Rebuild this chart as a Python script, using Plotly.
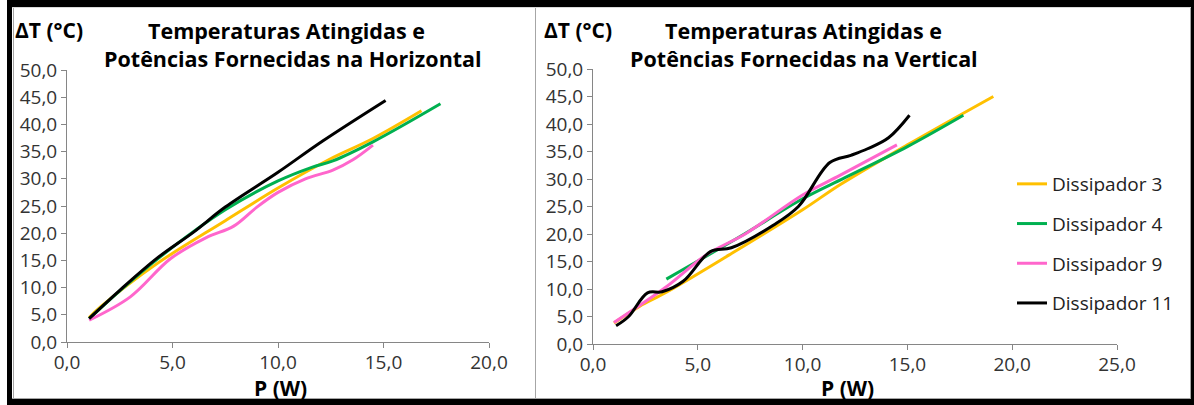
import plotly.graph_objects as go

# ---------------- data ----------------
series_names = ["Dissipador 3", "Dissipador 4", "Dissipador 9", "Dissipador 11"]
series_colors = ["#FFC000", "#00B050", "#FF66CC", "#000000"]

# Horizontal (left chart)
h_p3 = [1.05, 1.6, 4.3, 7.5, 10.0, 12.4, 14.5, 16.8]
h_t3 = [4.5, 6.5, 14.5, 22.3, 28.3, 33.5, 37.4, 42.5]
h_p4 = [1.05, 2.5, 4.3, 7.5, 10.0, 11.6, 12.6, 14.5, 17.7]
h_t4 = [4.3, 9.4, 15.3, 24.3, 29.6, 32.1, 33.3, 36.8, 43.8]
h_p9 = [1.05, 3.0, 4.9, 6.6, 7.9, 9.0, 10.0, 11.3, 12.6, 13.55, 14.5]
h_t9 = [4.0, 8.3, 15.3, 19.2, 21.3, 24.8, 27.5, 30.0, 31.6, 33.5, 36.2]
h_p11 = [1.05, 2.5, 4.3, 6.0, 7.5, 10.0, 12.1, 15.1]
h_t11 = [4.3, 9.5, 15.5, 20.2, 24.8, 31.2, 36.9, 44.4]

# Vertical (right chart)
v_p3 = [1.0, 2.2, 3.5, 6.5, 10.0, 11.8, 15.0, 19.1]
v_t3 = [3.8, 6.8, 9.4, 16.2, 24.4, 29.0, 36.2, 45.0]
v_p4 = [3.5, 7.0, 10.0, 12.0, 15.0, 17.67]
v_t4 = [11.8, 19.5, 26.4, 30.2, 35.9, 41.6]
v_p9 = [1.0, 3.5, 5.4, 7.3, 10.0, 11.8, 14.5]
v_t9 = [3.9, 10.4, 16.2, 20.1, 27.1, 30.7, 36.2]
v_p11 = [1.1, 1.7, 2.6, 3.3, 4.3, 5.6, 6.6, 8.6, 9.8, 11.3, 12.3, 13.1, 14.1, 15.1]
v_t11 = [3.3, 5.0, 9.3, 9.5, 11.4, 16.8, 17.5, 21.6, 25.0, 33.0, 34.3, 35.5, 37.5, 41.6]

y_ticks = [0, 5, 10, 15, 20, 25, 30, 35, 40, 45, 50]
x_ticks_h = [0, 5, 10, 15, 20]
x_ticks_v = [0, 5, 10, 15, 20, 25]

title_h = ["Temperaturas Atingidas e", "Potências Fornecidas na Horizontal"]
title_v = ["Temperaturas Atingidas e", "Potências Fornecidas na Vertical"]
y_title = "ΔT (°C)"
x_title = "P (W)"

# ---------------- figure ----------------
W, H = 1194, 405
FONT = "'Open Sans', Lato, sans-serif"


def px(x):
    return x / W


def py(y):
    return 1 - y / H


def fmt(v):
    return f"{v:.1f}".replace(".", ",")


fig = go.Figure()

h_data = [(h_p3, h_t3), (h_p4, h_t4), (h_p9, h_t9), (h_p11, h_t11)]
v_data = [(v_p3, v_t3), (v_p4, v_t4), (v_p9, v_t9), (v_p11, v_t11)]

for i, (xs, ys) in enumerate(h_data):
    fig.add_trace(go.Scatter(
        x=xs, y=ys, mode="lines", name=series_names[i],
        line=dict(color=series_colors[i], width=3, shape="spline", smoothing=1.0),
        xaxis="x", yaxis="y", showlegend=False, legendgroup=series_names[i],
    ))

for i, (xs, ys) in enumerate(v_data):
    fig.add_trace(go.Scatter(
        x=xs, y=ys, mode="lines", name=series_names[i],
        line=dict(color=series_colors[i], width=3, shape="spline", smoothing=1.0),
        xaxis="x2", yaxis="y2", showlegend=True, legendgroup=series_names[i],
    ))

axis_common = dict(
    showgrid=False, zeroline=False, showline=True, linecolor="#868686", linewidth=1,
    ticks="outside", ticklen=5, tickcolor="#868686", tickwidth=1,
    tickfont=dict(family=FONT, size=19, color="#333333"),
    fixedrange=True, automargin=False,
)
x_extra = dict(ticklabelstandoff=-2)

fig.update_layout(
    template="none",
    width=W, height=H,
    margin=dict(l=0, r=0, t=0, b=0, pad=0, autoexpand=False),
    paper_bgcolor="white", plot_bgcolor="white",
    font=dict(family=FONT, color="#000000"),
    xaxis=dict(domain=[px(67), px(489)], anchor="y", range=[0, 20],
               tickvals=x_ticks_h, ticktext=[fmt(v) for v in x_ticks_h], **axis_common, **x_extra),
    yaxis=dict(domain=[py(342), py(70)], anchor="x", range=[0, 50],
               tickvals=y_ticks, ticktext=[fmt(v) for v in y_ticks], **axis_common),
    xaxis2=dict(domain=[px(593), px(1117)], anchor="y2", range=[0, 25],
                tickvals=x_ticks_v, ticktext=[fmt(v) for v in x_ticks_v], **axis_common, **x_extra),
    yaxis2=dict(domain=[py(344), py(69)], anchor="x2", range=[0, 50],
                tickvals=y_ticks, ticktext=[fmt(v) for v in y_ticks], **axis_common),
    showlegend=True,
    legend=dict(
        x=px(1012), y=py(165), xanchor="left", yanchor="top",
        font=dict(family=FONT, size=19, color="#222222"),
        tracegroupgap=12, bgcolor="rgba(0,0,0,0)", borderwidth=0,
    ),
)

annotations = []


def add_text(text, x, y, size, bold=True, xanchor="center"):
    annotations.append(dict(
        text=f"<b>{text}</b>" if bold else text, x=px(x), y=py(y), xref="paper", yref="paper",
        xanchor=xanchor, yanchor="middle", showarrow=False,
        font=dict(family=FONT, size=size, color="#000000"),
    ))


add_text(title_h[0], 286, 30, 21.5)
add_text(title_h[1], 293, 58, 21.5)
add_text(title_v[0], 803, 30, 21.5)
add_text(title_v[1], 804, 58, 21.5)
add_text(y_title, 13, 30, 21, xanchor="left")
add_text(y_title, 542, 30, 21, xanchor="left")
add_text(x_title, 280, 388, 21)
add_text(x_title, 847, 388, 21)
fig.update_layout(annotations=annotations)

shapes = []


def rect(x0, y0, x1, y1, color):
    shapes.append(dict(type="rect", xref="paper", yref="paper",
                       x0=px(x0), x1=px(x1), y0=py(y1), y1=py(y0),
                       fillcolor=color, line=dict(width=0), layer="above"))


def vline(x, y0, y1, color):
    shapes.append(dict(type="line", xref="paper", yref="paper",
                       x0=px(x), x1=px(x), y0=py(y0), y1=py(y1),
                       line=dict(color=color, width=1), layer="above"))


def hline(y, x0, x1, color):
    shapes.append(dict(type="line", xref="paper", yref="paper",
                       x0=px(x0), x1=px(x1), y0=py(y), y1=py(y),
                       line=dict(color=color, width=1), layer="above"))


# gray chart-area borders
vline(13.5, 7, 399, "#A6A6A6")
vline(535.5, 7, 399, "#A6A6A6")
vline(1190.5, 7, 399, "#A6A6A6")
hline(398.5, 12, 1191, "#A6A6A6")
hline(7.5, 12, 1191, "#D9D9D9")
# black frame
rect(7, 0, 1194, 7, "#000000")
rect(7, 0, 12, 405, "#000000")
rect(1191, 0, 1194, 405, "#000000")
rect(7, 399, 1194, 405, "#000000")
fig.update_layout(shapes=shapes)

fig.write_html(
    "out.html",
    config={"displayModeBar": False},
    post_script="document.body.style.margin='0px';document.body.style.overflow='hidden';",
)
